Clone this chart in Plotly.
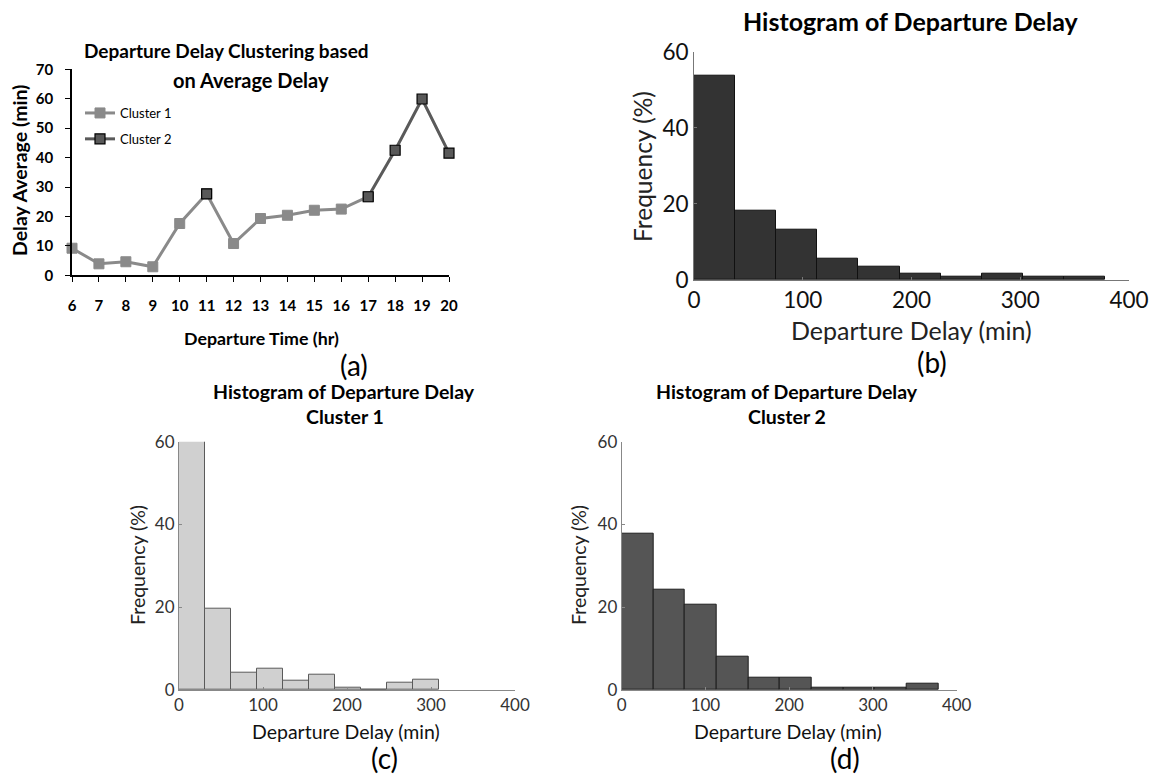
import plotly.graph_objects as go

W, H = 1161, 775

# ---------------- data ----------------
hours = [6, 7, 8, 9, 10, 11, 12, 13, 14, 15, 16, 17, 18, 19, 20]
delay_avg = [9.2, 3.9, 4.6, 2.9, 17.6, 27.7, 10.8, 19.3, 20.4, 22.1, 22.5, 26.7, 42.5, 59.9, 41.5]
cluster_id = [1, 1, 1, 1, 1, 2, 1, 1, 1, 1, 1, 2, 2, 2, 2]

# histogram (b): all flights
b_edges = [0, 37.8, 75.6, 113.4, 151.2, 189, 226.8, 264.6, 302.4, 340.2, 378]
b_freq = [53.7, 18.1, 13.2, 5.6, 3.4, 1.6, 1.0, 1.6, 0.8, 0.8]

# histogram (c): cluster 1
c_edges = [0, 31, 62, 93, 124, 155, 186, 217, 248, 279, 310]
c_freq = [62.0, 19.6, 4.3, 5.1, 2.3, 3.8, 0.6, 0.0, 1.7, 2.4]

# histogram (d): cluster 2
d_edges = [0, 37.8, 75.6, 113.4, 151.2, 189, 226.8, 264.6, 302.4, 340.2, 378]
d_freq = [37.8, 24.2, 20.5, 8.0, 3.0, 3.0, 0.65, 0.65, 0.65, 1.45]

freq_ticks = [0, 20, 40, 60]
delay_ticks = [0, 100, 200, 300, 400]


def px_x(p):
    return p / W


def px_y(p):
    return 1 - p / H


FONT = "Lato, 'Open Sans', sans-serif"
fig = go.Figure()

# ---------------- panel (a) ----------------
c1_line = [v if h <= 17 else None for h, v in zip(hours, delay_avg)]
fig.add_trace(go.Scatter(
    x=hours, y=c1_line, mode="lines+markers", name="Cluster 1",
    line=dict(color="#8a8a8a", width=3),
    marker=dict(symbol="square", size=10, color="#8a8a8a",
                line=dict(color="#8a8a8a", width=1)),
    xaxis="x", yaxis="y", legendgroup="c1", connectgaps=False, cliponaxis=False,
))
c2_vals = [v if c == 2 else None for v, c in zip(delay_avg, cluster_id)]
fig.add_trace(go.Scatter(
    x=hours, y=c2_vals, mode="lines+markers", name="Cluster 2",
    line=dict(color="#5a5a5a", width=3),
    marker=dict(symbol="square", size=10, color="#595959",
                line=dict(color="#000000", width=1.2)),
    xaxis="x", yaxis="y", legendgroup="c2", connectgaps=False, cliponaxis=False,
))


def add_hist(edges, freq, xa, ya, fill, edge):
    lefts = edges[:-1]
    widths = [b - a for a, b in zip(edges[:-1], edges[1:])]
    fig.add_trace(go.Bar(
        x=lefts, y=freq, width=widths, offset=0,
        marker=dict(color=fill, line=dict(color=edge, width=1)),
        xaxis=xa, yaxis=ya, showlegend=False,
    ))


add_hist(b_edges, b_freq, "x2", "y2", "#333333", "#111111")
add_hist(c_edges, c_freq, "x3", "y3", "#d0d0d0", "#5a5a5a")
add_hist(d_edges, d_freq, "x4", "y4", "#555555", "#1e1e1e")

# ---------------- axes ----------------
axis_a_common = dict(showgrid=False, zeroline=False, showline=True, linecolor="#000000",
                     linewidth=1.5, ticks="outside", tickcolor="#000000", ticklen=5,
                     automargin=False,
                     tickfont=dict(family=FONT, size=15, color="#000000", weight="bold"))
layout = dict(
    width=W, height=H, margin=dict(l=0, r=0, t=0, b=0, autoexpand=False),
    paper_bgcolor="white", plot_bgcolor="white", bargap=0,
    font=dict(family=FONT),
    xaxis=dict(domain=[px_x(72), px_x(449)], range=[6, 20], tickvals=hours,
               anchor="y", ticklabelstandoff=11, **axis_a_common),
    yaxis=dict(domain=[px_y(275.3), px_y(69.3)], range=[0, 70], tickvals=list(range(0, 71, 10)),
               anchor="x", ticklabelstandoff=9, **axis_a_common),
)


def hist_axes(n, xd, yd, tick_size, tick_color, line_color):
    common = dict(showgrid=False, zeroline=False, showline=True, linecolor=line_color,
                  linewidth=1, ticks="inside", ticklen=3, tickcolor=line_color, automargin=False,
                  tickfont=dict(family=FONT, size=tick_size, color=tick_color))
    layout[f"xaxis{n}"] = dict(domain=[px_x(xd[0]), px_x(xd[1])], range=[0, 400],
                               tickvals=delay_ticks, anchor=f"y{n}", **common)
    layout[f"yaxis{n}"] = dict(domain=[px_y(yd[0]), px_y(yd[1])], range=[0, 60],
                               tickvals=freq_ticks, anchor=f"x{n}", **common)


hist_axes(2, (694, 1129), (280, 51.7), 22.5, "#111111", "#777777")
hist_axes(3, (179, 515), (690, 441.7), 17, "#333333", "#888888")
hist_axes(4, (621.7, 956.7), (690, 441.7), 17, "#333333", "#888888")

layout["legend"] = dict(x=px_x(80), y=px_y(98), xanchor="left", yanchor="top",
                        bgcolor="rgba(0,0,0,0)", font=dict(family=FONT, size=13, color="#000"),
                        tracegroupgap=6, itemwidth=30)
fig.update_layout(**layout)


def ann(text, x, y, size, bold=False, color="#000000", angle=0):
    fig.add_annotation(text=text, x=px_x(x), y=px_y(y), xref="paper", yref="paper",
                       showarrow=False, xanchor="center", yanchor="middle", textangle=angle,
                       font=dict(family=FONT, size=size, color=color,
                                 weight="bold" if bold else "normal"))


# panel (a) texts
ann("Departure Delay Clustering based", 226, 51, 19, bold=True)
ann("on Average Delay", 251, 80, 20, bold=True)
ann("Delay Average (min)", 19, 171, 19.5, bold=True, angle=-90)
ann("Departure Time (hr)", 261, 338, 17.8, bold=True)
ann("(a)", 354, 365, 28)

# panel (b)
ann("Histogram of Departure Delay", 911, 21, 25, bold=True)
ann("Frequency (%)", 642, 166, 24.5, angle=-90, color="#222222")
ann("Departure Delay (min)", 911, 330, 25, color="#222222")
ann("(b)", 932, 362, 28)

# panel (c)
ann("Histogram of Departure Delay", 344, 391, 19.5, bold=True)
ann("Cluster 1", 345, 416, 19.5, bold=True)
ann("Frequency (%)", 137, 565, 19.5, angle=-90, color="#222222")
ann("Departure Delay (min)", 346, 731, 19.5, color="#111111")
ann("(c)", 384, 758, 28)

# panel (d)
ann("Histogram of Departure Delay", 787, 391, 19.5, bold=True)
ann("Cluster 2", 787, 416, 19.5, bold=True)
ann("Frequency (%)", 578, 565, 19.5, angle=-90, color="#222222")
ann("Departure Delay (min)", 788, 731, 19.5, color="#111111")
ann("(d)", 845, 758, 28)

fig.write_html(
    "out.html",
    config={"displayModeBar": False},
    post_script="document.body.style.margin='0';document.body.style.overflow='hidden';",
)
